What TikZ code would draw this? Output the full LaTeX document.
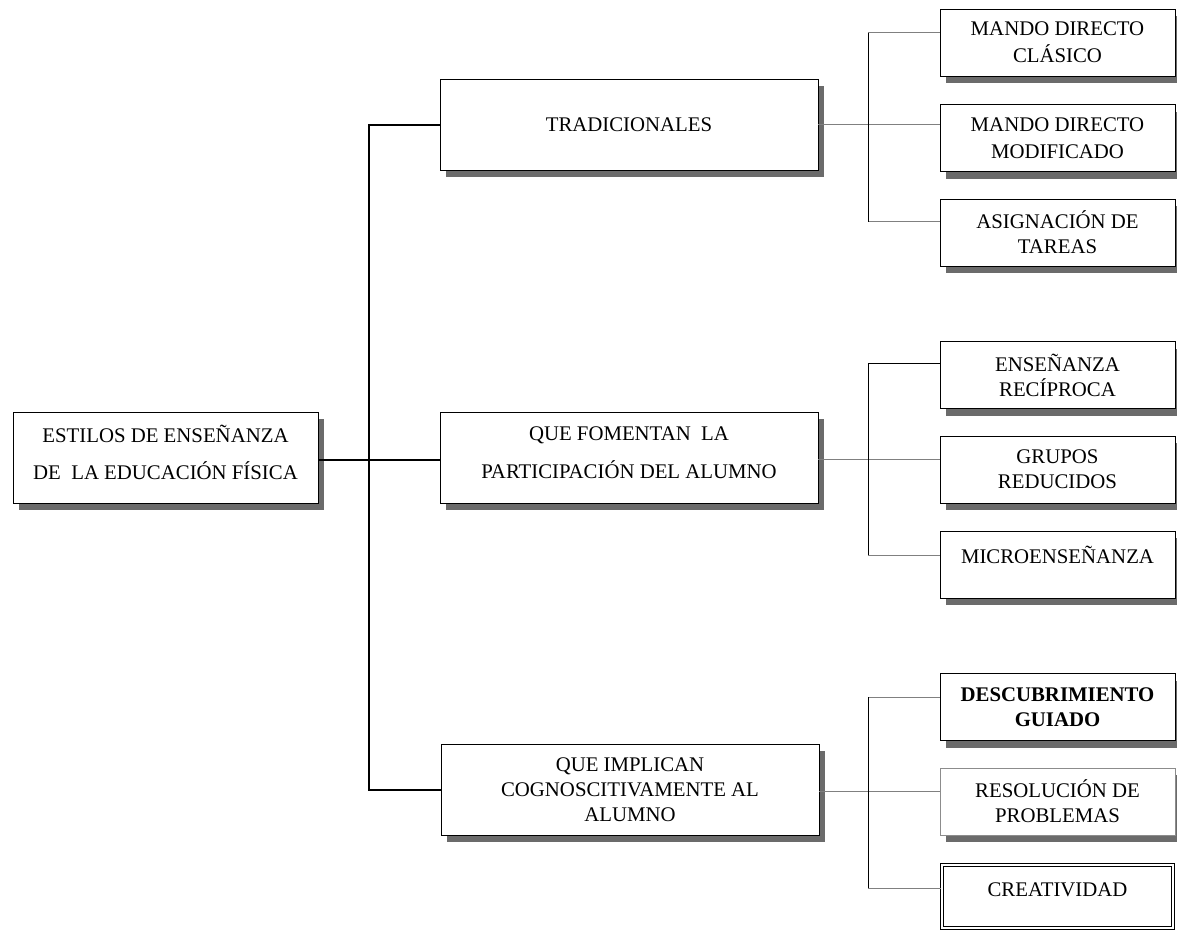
\documentclass[tikz,border=0pt]{standalone}
\usepackage{fontspec}
\setmainfont{Liberation Serif}
\usetikzlibrary{shadows}
\begin{document}
\begin{tikzpicture}[x=1pt,y=-1pt,
  box/.style={draw=black, line width=0.9pt, fill=white, align=center, inner sep=0pt,
    general shadow={fill=black!58, shadow xshift=6pt, shadow yshift=-7pt}},
  mainbox/.style={box, minimum width=378pt, minimum height=91pt, font=\fontsize{20.8}{38}\selectfont},
  leaf/.style={box, minimum width=235pt, minimum height=67pt, font=\fontsize{20.8}{25}\selectfont},
  bus/.style={draw=black, line width=2pt},
  vert/.style={draw=black, line width=0.8pt},
  branch/.style={draw=black!50, line width=0.9pt}]
\useasboundingbox (0,0) rectangle (1177,932);
\fill[white] (0,0) rectangle (1177,932);

% main nodes
\node[box, minimum width=305pt, minimum height=91pt, font=\fontsize{20.8}{37}\selectfont] (root) at (165.5,457.5)
  {ESTILOS DE ENSEÑANZA\\DE~ LA EDUCACIÓN FÍSICA\\[-27pt]\mbox{}};
\node[mainbox] (trad) at (629,124.5) {TRADICIONALES};
\node[mainbox] (part) at (629,457.5) {QUE FOMENTAN~ LA\\PARTICIPACIÓN DEL ALUMNO\\[-28pt]\mbox{}};
\node[mainbox, font=\fontsize{20.8}{25}\selectfont] (cog) at (630,789.5) {QUE IMPLICAN\\COGNOSCITIVAMENTE AL\\ALUMNO};

% leaves
\node[leaf, font=\fontsize{20.8}{27}\selectfont] (t1) at (1057.5,42.5) {MANDO DIRECTO\\CLÁSICO};
\node[leaf, font=\fontsize{20.8}{27}\selectfont] (t2) at (1057.5,138) {MANDO DIRECTO\\MODIFICADO};
\node[leaf] (t3) at (1057.5,232.5) {ASIGNACIÓN DE\\TAREAS};
\node[leaf] (p1) at (1057.5,375) {ENSEÑANZA\\RECÍPROCA};
\node[leaf] (p2) at (1057.5,469.5) {GRUPOS\\REDUCIDOS};
\node[leaf] (p3) at (1057.5,564.5) {MICROENSEÑANZA\\[-6pt]\mbox{}};
\node[leaf, font=\fontsize{20.8}{25}\selectfont\bfseries] (c1) at (1057.5,707) {DESCUBRIMIENTO\\GUIADO};
\node[leaf, draw=black!45] (c2) at (1057.5,801.5) {RESOLUCIÓN DE\\PROBLEMAS};
\node[draw=black, fill=white, line width=1.1pt, double=white, double distance=2.5pt,
  minimum width=231pt, minimum height=63pt, inner sep=0pt, align=center,
  font=\fontsize{20.8}{25}\selectfont] (c3) at (1057.5,896.5) {CREATIVIDAD\\[-12pt]\mbox{}};

% main bus
\coordinate (busx) at (369,0);
\draw[bus] ([yshift=-2.5pt]root.east) -- ([yshift=-2.5pt]root.east -| part.west);
\draw[bus] (trad.west) -| (busx |- cog.west) -- (cog.west);

% group connectors
\coordinate (gx) at (868,0);
\coordinate (t1a) at ([yshift=10pt]t1.west);
\coordinate (t3a) at ([yshift=11pt]t3.west);
\coordinate (p1a) at ([yshift=12pt]p1.west);
\coordinate (p3a) at ([yshift=9.5pt]p3.west);
\coordinate (c1a) at ([yshift=10pt]c1.west);
\coordinate (c3a) at ([yshift=8.5pt]c3.west);

\draw[branch] (trad.east) -- (trad.east -| t2.west);
\draw[branch] (t1a -| gx) -- (t1a);
\draw[branch] (t3a -| gx) -- (t3a);
\draw[vert] (t1a -| gx) -- (t3a -| gx);

\draw[branch] ([yshift=-1.5pt]part.east) -- ([yshift=-1.5pt]part.east -| p2.west);
\draw[vert] (p1a -| gx) -- (p1a);
\draw[branch] (p3a -| gx) -- (p3a);
\draw[vert] (p1a -| gx) -- (p3a -| gx);

\draw[branch] ([yshift=-2pt]cog.east) -- ([yshift=-2pt]cog.east -| c2.west);
\draw[branch] (c1a -| gx) -- (c1a);
\draw[branch] (c3a -| gx) -- (c3a);
\draw[vert] (c1a -| gx) -- (c3a -| gx);
\end{tikzpicture}
\end{document}
